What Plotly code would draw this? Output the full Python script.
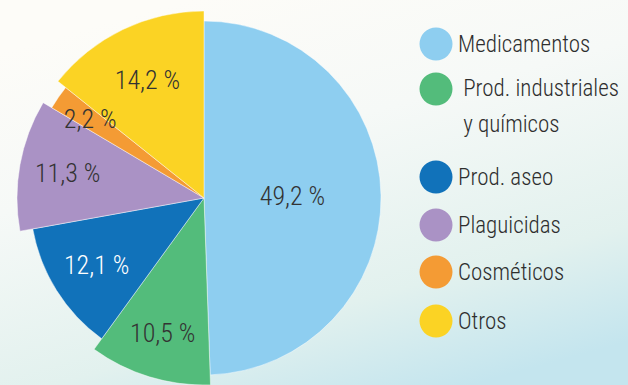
import base64
import plotly.graph_objects as go

# Share of each product group (%)
categories = ["Medicamentos", "Prod. industriales y químicos", "Prod. aseo",
              "Plaguicidas", "Cosméticos", "Otros"]
shares = [49.2, 10.5, 12.1, 11.3, 2.2, 14.2]

# legend text (one entry per category, split over lines where needed)
legend_labels = [["Medicamentos"], [" Prod. industriales", " y químicos"], ["Prod. aseo"],
                 ["Plaguicidas"], ["Cosméticos"], ["Otros"]]

colors = ["#8ECEF0", "#53BC7B", "#1172BA", "#AA92C5", "#F49B34", "#FBD324"]
text_colors = ["#333333", "#333333", "#FFFFFF", "#333333", "#333333", "#333333"]
# outer radius of every sector, in pixels
radii = [177, 187, 174, 187, 177, 187]
# radius used to place each sector's value label (narrow sectors get it nearer the centre)
label_radii = [177, 187, 174, 187, 148, 187]

W, H = 628, 385
CX, CY = 204, 198          # pie centre (pixels from top-left)
FONT = "Roboto Condensed, DejaVu Sans Condensed, sans-serif"


def pct(v):
    return f"{v:.1f}".replace(".", ",") + " %"


def domain(r):
    return dict(x=[(CX - r) / W, (CX + r) / W],
                y=[(H - CY - r) / H, (H - CY + r) / H])


fig = go.Figure()
clear = "rgba(0,0,0,0)"

# one pie per sector so that each sector can have its own radius;
# the other sectors of that pie are left transparent
for i, cat in enumerate(categories):
    fills = [clear] * len(shares)
    fills[i] = colors[i]
    lines = [clear] * len(shares)
    lines[i] = "rgba(255,255,255,0.55)"
    texts = [""] * len(shares)
    if label_radii[i] == radii[i]:
        texts[i] = pct(shares[i])
    fig.add_trace(go.Pie(
        labels=categories, values=shares, sort=False,
        direction="clockwise", rotation=0,
        marker=dict(colors=fills, line=dict(color=lines, width=0.8)),
        text=texts, textinfo="text", textposition="inside",
        insidetextorientation="horizontal",
        textfont=dict(family=FONT, size=26, weight=300, color=text_colors[i]),
        hoverinfo="label+percent", showlegend=False,
        domain=domain(radii[i]),
    ))

# value labels of narrow sectors, placed closer to the centre, on top of everything
for i, cat in enumerate(categories):
    if label_radii[i] == radii[i]:
        continue
    texts = [""] * len(shares)
    texts[i] = pct(shares[i])
    fig.add_trace(go.Pie(
        labels=categories, values=shares, sort=False,
        direction="clockwise", rotation=0,
        marker=dict(colors=[clear] * len(shares), line=dict(width=0)),
        text=texts, textinfo="text", textposition="inside",
        insidetextorientation="horizontal",
        textfont=dict(family=FONT, size=26, weight=300, color=text_colors[i]),
        hoverinfo="skip", showlegend=False,
        domain=domain(label_radii[i]),
    ))

# legend: coloured discs with labels
legend_y = [44, 89, 177, 225, 272, 321]
LINE_GAP = 35
shapes = []
annotations = []
for i, lines_ in enumerate(legend_labels):
    y_px = legend_y[i]
    shapes.append(dict(type="circle", xref="paper", yref="paper",
                       xsizemode="pixel", ysizemode="pixel",
                       xanchor=436 / W, yanchor=1 - y_px / H,
                       x0=-16.5, x1=16.5, y0=-16.5, y1=16.5,
                       fillcolor=colors[i], line=dict(width=0)))
    for k, line_text in enumerate(lines_):
        annotations.append(dict(xref="paper", yref="paper", x=456 / W,
                                y=1 - (y_px + k * LINE_GAP) / H,
                                text=line_text, showarrow=False,
                                xanchor="left", yanchor="middle",
                                font=dict(family=FONT, size=23, weight=300,
                                          color="#2E2E2E")))

# soft light background
svg = f"""<svg xmlns='http://www.w3.org/2000/svg' width='{W}' height='{H}' preserveAspectRatio='none'>
<defs><linearGradient id='g' x1='0.3' y1='0' x2='0.75' y2='1'>
<stop offset='0' stop-color='#FDFCF8'/>
<stop offset='0.35' stop-color='#F6F9F7'/>
<stop offset='0.75' stop-color='#E2F1EE'/>
<stop offset='1' stop-color='#C4E5EE'/>
</linearGradient></defs>
<rect width='{W}' height='{H}' fill='url(#g)'/></svg>"""
bg = "data:image/svg+xml;base64," + base64.b64encode(svg.encode()).decode()

fig.update_layout(
    width=W, height=H, autosize=False,
    margin=dict(l=0, r=0, t=0, b=0),
    paper_bgcolor="#F8FAF8",
    plot_bgcolor="rgba(0,0,0,0)",
    uniformtext=dict(minsize=26, mode="show"),
    shapes=shapes,
    annotations=annotations,
    images=[dict(source=bg, xref="paper", yref="paper", x=0, y=1,
                 sizex=1, sizey=1, sizing="stretch", layer="below",
                 xanchor="left", yanchor="top")],
)

fig.write_html("out.html")
